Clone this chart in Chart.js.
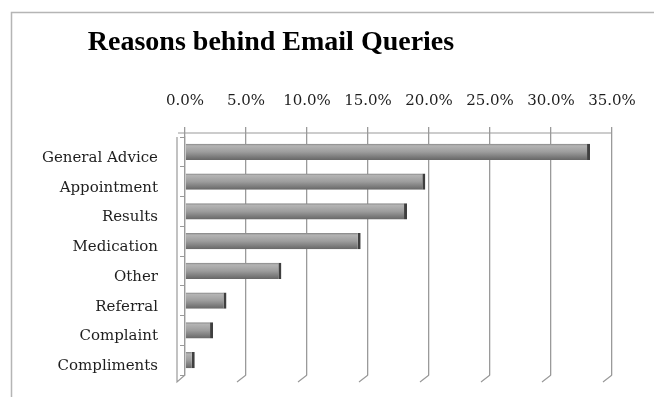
<!DOCTYPE html>
<html lang="en">
<head>
    <meta charset="UTF-8">
    <title>Reasons behind Email Queries</title>
    <style>
        body {
            margin: 0;
            background-color: #ffffff;
        }

        .chart-box {
            position: relative;
            width: 654px;
            height: 397px;
        }
    </style>
</head>
<body>
    <div class="chart-box">
        <canvas id="queryChart" width="654" height="397"></canvas>
    </div>

    <script src="https://cdn.jsdelivr.net/npm/chart.js"></script>
    <script>
        const chartTitle = 'Reasons behind Email Queries';
        const reasons = ['General Advice', 'Appointment', 'Results', 'Medication', 'Other', 'Referral', 'Complaint', 'Compliments'];
        const shares = [33.2, 19.7, 18.2, 14.4, 7.9, 3.4, 2.3, 0.8];
        const tickValues = [0, 5, 10, 15, 20, 25, 30, 35];

        // grey shading across each bar, like a rounded bar lit from above
        function barShade(c) {
            const yScale = c.chart.scales.y;
            if (!yScale || c.dataIndex === undefined) {
                return '#9c9c9c';
            }
            const mid = yScale.getPixelForValue(c.dataIndex);
            const step = Math.abs(yScale.getPixelForValue(1) - yScale.getPixelForValue(0));
            const h = step * 0.27;
            if (!isFinite(mid) || !isFinite(h) || h === 0) {
                return '#9c9c9c';
            }
            const g = c.chart.ctx.createLinearGradient(0, mid - h, 0, mid + h);
            g.addColorStop(0, '#858585');
            g.addColorStop(0.12, '#b4b4b4');
            g.addColorStop(0.5, '#9d9d9d');
            g.addColorStop(1, '#676767');
            return g;
        }

        // frame, title, top axis line, left wall and the slanted floor ends
        const decorations = {
            id: 'decorations',
            afterDraw(chart) {
                const ctx = chart.ctx;
                const area = chart.chartArea;
                const xScale = chart.scales.x;
                ctx.save();
                ctx.strokeStyle = '#b5b5b5';
                ctx.lineWidth = 1.5;
                ctx.strokeRect(11.5, 12.5, 700, 400);

                ctx.strokeStyle = '#9a9a9a';
                ctx.lineWidth = 1.2;
                ctx.beginPath();
                ctx.moveTo(area.left - 7, area.top - 4);
                ctx.lineTo(area.right, area.top - 4);
                ctx.stroke();

                ctx.beginPath();
                ctx.moveTo(area.left - 8, area.top);
                ctx.lineTo(area.left - 8, area.bottom + 7);
                ctx.lineTo(area.left, area.bottom);
                ctx.stroke();

                ctx.beginPath();
                tickValues.slice(1).forEach(function (v) {
                    const x = xScale.getPixelForValue(v);
                    ctx.moveTo(x, area.bottom);
                    ctx.lineTo(x - 9, area.bottom + 7);
                });
                ctx.stroke();

                ctx.fillStyle = '#000000';
                ctx.font = 'bold 28px "Liberation Serif"';
                ctx.textAlign = 'center';
                ctx.textBaseline = 'middle';
                ctx.fillText(chartTitle, 271, 43);
                ctx.restore();
            }
        };

        const ctx = document.getElementById('queryChart').getContext('2d');
        const queryChart = new Chart(ctx, {
            type: 'bar',
            data: {
                labels: reasons,
                datasets: [{
                    label: 'Share of queries',
                    data: shares,
                    backgroundColor: barShade,
                    borderColor: '#3f3f3f',
                    borderWidth: { top: 0, bottom: 0, left: 0, right: 3 },
                    borderSkipped: false,
                    barPercentage: 0.54,
                    categoryPercentage: 1
                }]
            },
            options: {
                indexAxis: 'y',
                responsive: false,
                animation: false,
                layout: {
                    padding: { top: 82, left: 11, right: 42, bottom: 22 }
                },
                plugins: {
                    legend: { display: false },
                    tooltip: { enabled: false }
                },
                scales: {
                    x: {
                        position: 'top',
                        min: 0,
                        max: 35,
                        afterBuildTicks: function (scale) {
                            scale.ticks = tickValues.map(function (v) { return { value: v }; });
                        },
                        afterFit: function (scale) {
                            scale.height = 55;
                        },
                        grid: {
                            color: '#9a9a9a',
                            lineWidth: 1.3,
                            tickLength: 10
                        },
                        border: { display: false },
                        ticks: {
                            padding: 17,
                            color: '#1e1e1e',
                            font: { family: '"DejaVu Serif"', size: 15 },
                            callback: function (v) { return v.toFixed(1) + '%'; }
                        }
                    },
                    y: {
                        afterFit: function (scale) {
                            scale.width = 174;
                            scale.paddingTop = 0;
                            scale.paddingBottom = 0;
                        },
                        grid: {
                            drawOnChartArea: false,
                            color: '#9a9a9a',
                            tickLength: 5
                        },
                        border: { display: true, color: '#9a9a9a', width: 1.2 },
                        ticks: {
                            padding: 22,
                            labelOffset: 6,
                            color: '#1e1e1e',
                            font: { family: '"DejaVu Serif"', size: 15 }
                        }
                    }
                }
            },
            plugins: [decorations]
        });
    </script>
</body>
</html>
